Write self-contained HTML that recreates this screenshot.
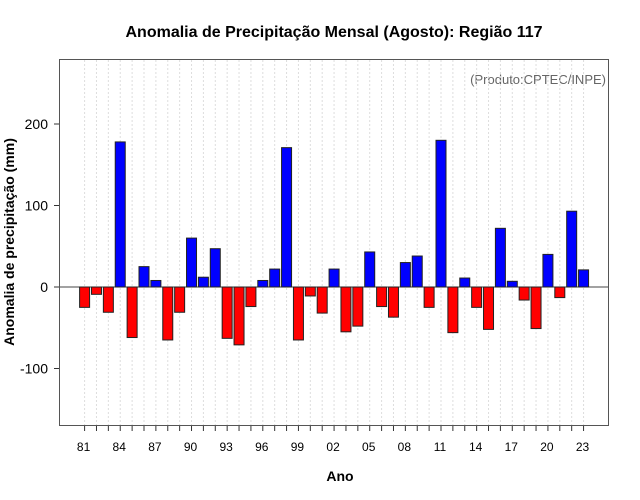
<!DOCTYPE html>
<html><head><meta charset="utf-8"><style>
body{margin:0;background:#fff;}
svg{display:block;font-family:"Liberation Sans",sans-serif;}
</style></head><body>
<svg id="c" width="640" height="500">
<text x="334" y="37" text-anchor="middle" font-size="16" font-weight="bold">Anomalia de Precipitação Mensal (Agosto): Região 117</text>
<text x="606" y="84" text-anchor="end" font-size="13" fill="#666">(Produto:CPTEC/INPE)</text>
<text x="340" y="481" text-anchor="middle" font-size="14" font-weight="bold">Ano</text>
<text transform="translate(14,242) rotate(-90)" text-anchor="middle" font-size="14" font-weight="bold">Anomalia de precipitação (mm)</text>
<g id="grid"></g><g id="bars"></g><g id="axes"></g>
<rect x="59.5" y="59.5" width="549" height="366" fill="none" stroke="#555"/>
</svg>
<script>
const years=[81,82,83,84,85,86,87,88,89,90,91,92,93,94,95,96,97,98,99,0,1,2,3,4,5,6,7,8,9,10,11,12,13,14,15,16,17,18,19,20,21,22,23];
const values=[-25,-9,-31,178,-62,25,8,-65,-31,60,12,47,-63,-71,-24,8,22,171,-65,-11,-32,22,-55,-48,43,-24,-37,30,38,-25,180,-56,11,-25,-52,72,7,-16,-51,40,-13,93,21];
const yTicks=[-100,0,100,200];
const NS="http://www.w3.org/2000/svg";
const xs=i=>84.6+i*11.88;
const ys=v=>287-v*0.815;
function mk(t,a,p){const e=document.createElementNS(NS,t);for(const k in a)e.setAttribute(k,a[k]);p.appendChild(e);return e;}
const g=document.getElementById('grid'),b=document.getElementById('bars'),ax=document.getElementById('axes');
years.forEach((y,i)=>{
 const l=mk('line',{x1:xs(i),x2:xs(i),y1:60,y2:425,stroke:'#ddd','stroke-dasharray':'2,2'},g);
 
 
 const t=mk('line',{x1:xs(i),x2:xs(i),y1:426,y2:431,stroke:'#333'},ax);
 
 
 if(i%3===0){const tx=mk('text',{x:xs(i)-1,y:451,'text-anchor':'middle','font-size':12},ax);tx.textContent=String(y).padStart(2,'0');
 
 }
});
const z=mk('line',{x1:60,x2:608,y1:ys(0),y2:ys(0),stroke:'#444'},g);


values.forEach((v,i)=>{
 const r=mk('rect',{x:xs(i)-5,y:Math.min(ys(v),ys(0)),width:10,height:Math.abs(ys(v)-ys(0)),fill:v>=0?'#0000ff':'#ff0000',stroke:'#222','stroke-width':1},b);
 
 
});
yTicks.forEach(v=>{
 const t=mk('line',{x1:54,x2:59,y1:ys(v),y2:ys(v),stroke:'#333'},ax);
 
 
 const tx=mk('text',{x:48,y:ys(v)+5,'text-anchor':'end','font-size':14},ax);tx.textContent=v;
 
 
});
</script>
</body></html>
